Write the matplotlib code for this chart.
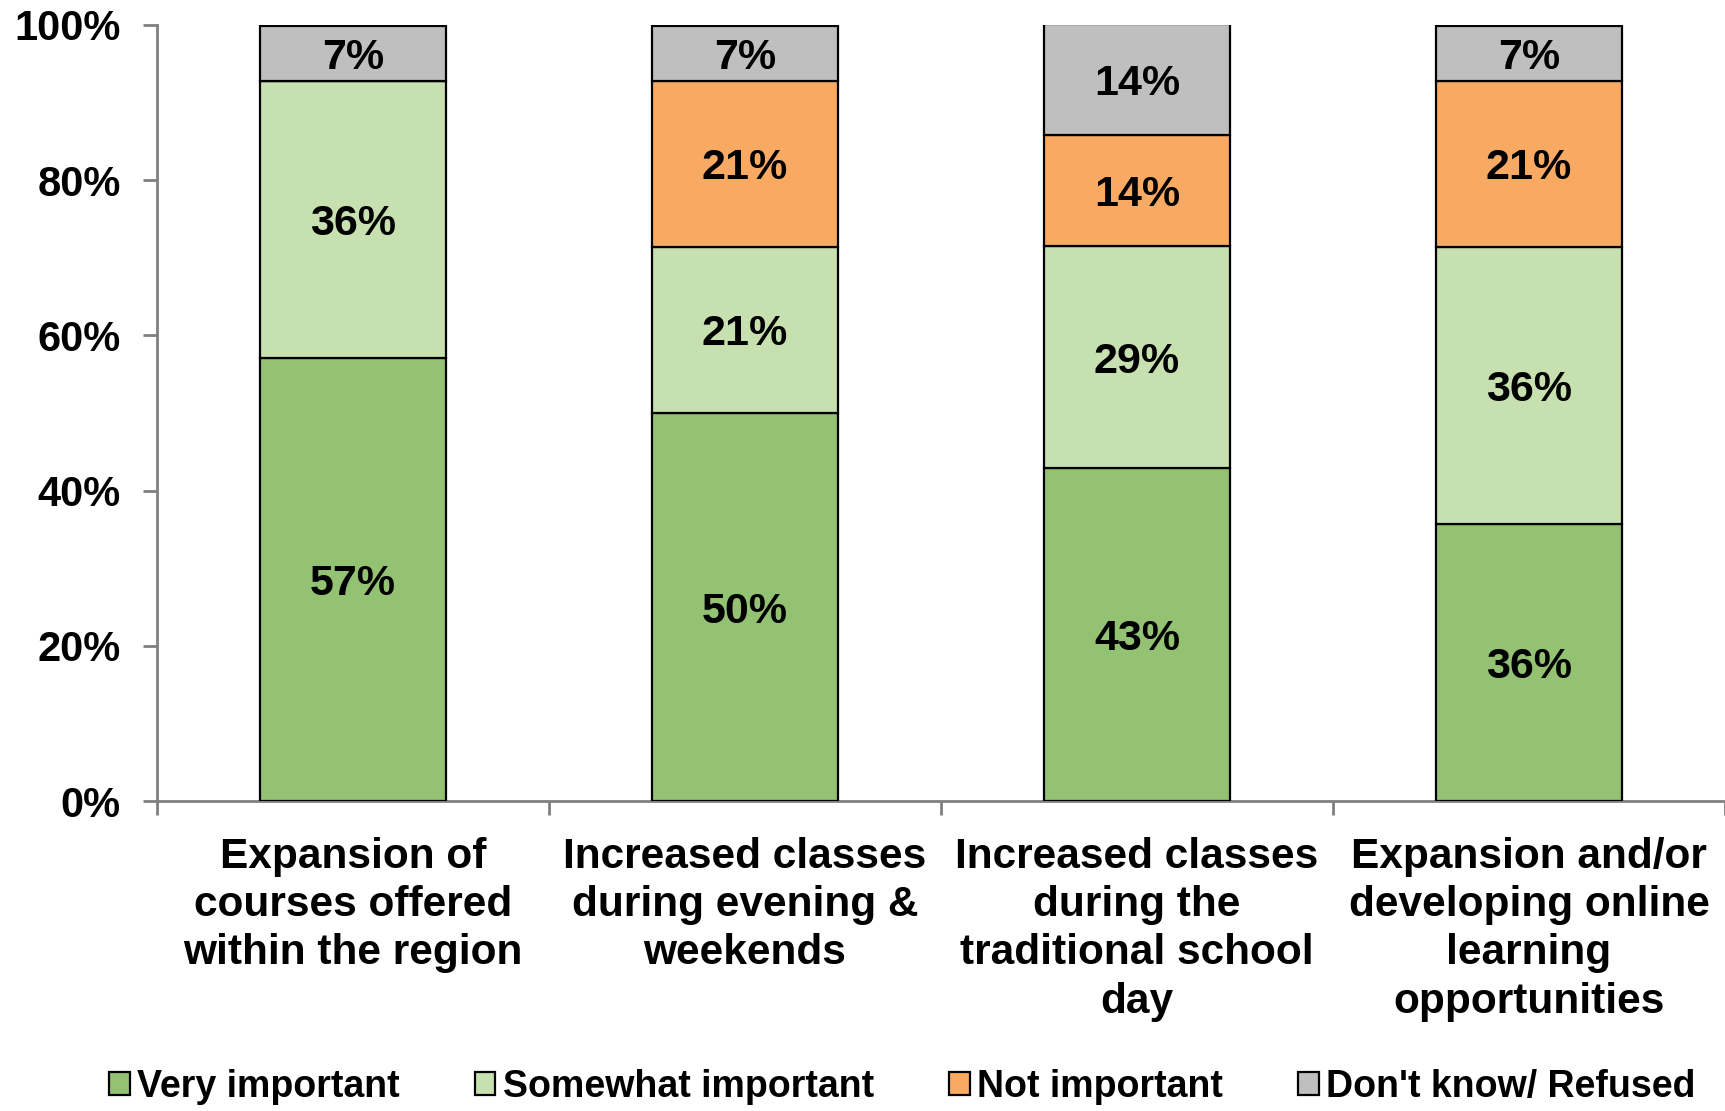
import numpy as np
import matplotlib
matplotlib.use("Agg")
import matplotlib.pyplot as plt
from matplotlib.ticker import FuncFormatter

plt.rcParams["font.family"] = ["Liberation Sans", "DejaVu Sans"]
plt.rcParams["font.weight"] = "bold"

# ------------------------------------------------------------
# Survey responses (percent of respondents, n = 14)
# ------------------------------------------------------------
categories = [
    "Expansion of\ncourses offered\nwithin the region",
    "Increased classes\nduring evening &\nweekends",
    "Increased classes\nduring the\ntraditional school\nday",
    "Expansion and/or\ndeveloping online\nlearning\nopportunities",
]
very_important = [57.1, 50.0, 42.9, 35.7]
somewhat_important = [35.7, 21.4, 28.6, 35.7]
not_important = [0.0, 21.4, 14.3, 21.4]
dont_know = [7.1, 7.1, 14.3, 7.1]

series = [
    ("Very important", very_important, "#93C272"),
    ("Somewhat important", somewhat_important, "#C6E0B0"),
    ("Not important", not_important, "#F9AA62"),
    ("Don't know/ Refused", dont_know, "#BFBFBF"),
]

fig = plt.figure(figsize=(17.25, 11.11), dpi=100)
ax = fig.add_axes([0.091, 0.279, 0.909, 0.6985])

x = np.arange(len(categories))
bottom = np.zeros(len(categories))
handles = []
for name, vals, color in series:
    vals = np.array(vals)
    bars = ax.bar(x, vals, width=0.475, bottom=bottom, color=color,
                  edgecolor="black", linewidth=1.6, label=name, zorder=3)
    handles.append(bars)
    for xi, b, v in zip(x, bottom, vals):
        if v > 0:
            ax.text(xi, b + v / 2, f"{v:.0f}%", ha="center",
                    va="center_baseline", fontsize=31, fontweight="bold",
                    zorder=4)
    bottom += vals

ax.set_xlim(-0.5, 3.5)
ax.set_ylim(0, 100)
ax.set_yticks(np.arange(0, 101, 20))
ax.yaxis.set_major_formatter(FuncFormatter(lambda v, _: f"{v:.0f}%"))
ax.tick_params(axis="y", labelsize=30, length=10, width=2, color="#808080", pad=16)

# category labels sit between boundary ticks
ax.set_xticks(np.arange(-0.5, 3.6, 1.0))
ax.set_xticklabels([])
ax.tick_params(axis="x", length=10, width=2, color="#808080")
for xi, label in zip(x, categories):
    ax.text(xi, -4.6, label, ha="center", va="top", fontsize=30.5,
            fontweight="bold", linespacing=1.27)

for side in ("top", "right"):
    ax.spines[side].set_visible(False)
for side in ("left", "bottom"):
    ax.spines[side].set_color("#808080")
    ax.spines[side].set_linewidth(2)

fig.legend(handles=handles, loc="center", bbox_to_anchor=(0.523, 0.022),
           ncol=4, frameon=False, handlelength=0.55,
           handleheight=0.55, handletextpad=0.2, columnspacing=2.0,
           borderpad=0.1, prop={"weight": "bold", "size": 27})

fig.savefig("out.png", dpi=100)
